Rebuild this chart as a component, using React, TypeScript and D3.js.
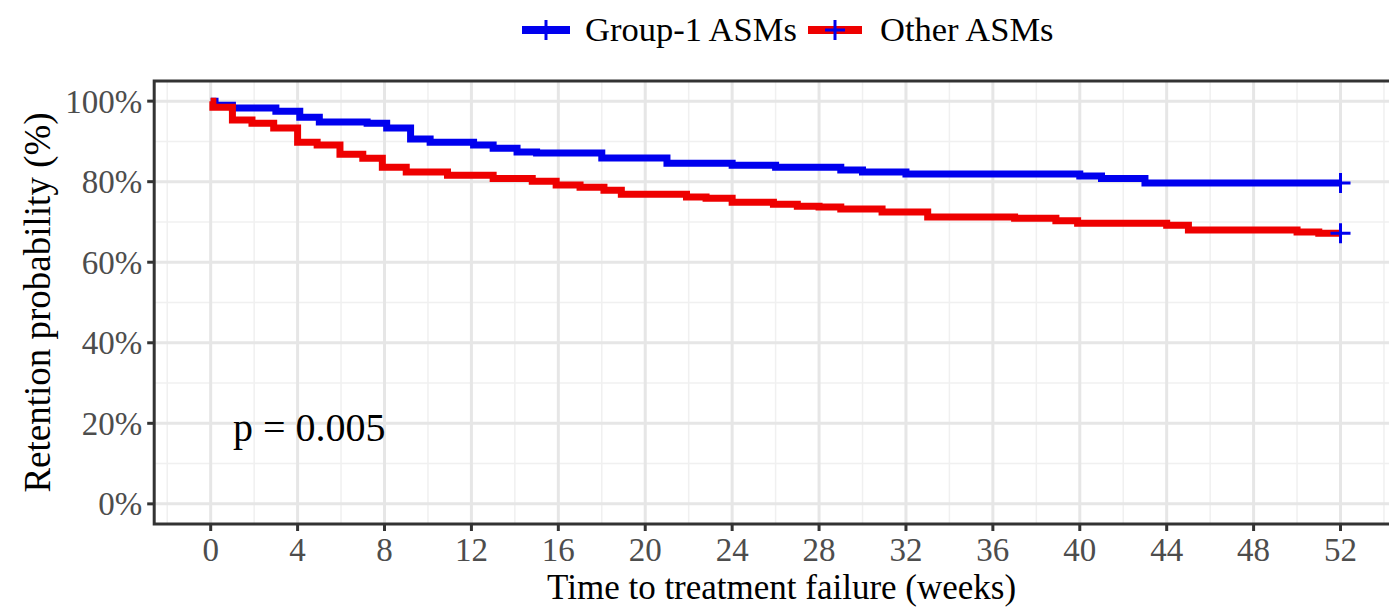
import React from 'react';
import * as d3 from 'd3';

// survival steps: time (weeks) -> retention probability
const group1Times = [0, 0.2, 1.0, 3.0, 4.1, 5.0, 7.2, 8.1, 9.2, 10.1, 12.1, 13.0, 14.1, 15.0, 18.0, 21.0, 24.0, 26.0, 29.0, 30.0, 32.0, 40.0, 41.0, 43.0, 52];
const group1Surv  = [1.0, 0.990, 0.983, 0.975, 0.960, 0.948, 0.945, 0.933, 0.906, 0.898, 0.891, 0.883, 0.874, 0.871, 0.859, 0.846, 0.841, 0.836, 0.829, 0.824, 0.819, 0.814, 0.808, 0.797, 0.797];

const otherTimes = [0, 0.1, 1.0, 1.9, 2.9, 4.0, 4.9, 5.95, 7.0, 7.9, 9.0, 10.9, 13.0, 14.8, 15.9, 17.0, 18.1, 18.9, 21.9, 22.8, 24.0, 25.9, 27.0, 28.0, 29.0, 30.9, 33.0, 37.0, 38.9, 39.9, 44.0, 45.0, 50.0, 51.0, 52];
const otherSurv  = [1.0, 0.985, 0.953, 0.945, 0.933, 0.898, 0.891, 0.868, 0.858, 0.836, 0.824, 0.816, 0.808, 0.801, 0.792, 0.786, 0.779, 0.769, 0.762, 0.759, 0.749, 0.744, 0.739, 0.737, 0.732, 0.725, 0.712, 0.709, 0.703, 0.697, 0.692, 0.680, 0.675, 0.672, 0.672];

const seriesNames = ['Group-1 ASMs', 'Other ASMs'];
const xTicks = [0, 4, 8, 12, 16, 20, 24, 28, 32, 36, 40, 44, 48, 52];
const xMinor = [-2, 2, 6, 10, 14, 18, 22, 26, 30, 34, 38, 42, 46, 50, 54];
const yTicks = [0, 0.2, 0.4, 0.6, 0.8, 1.0];
const yMinor = [0.1, 0.3, 0.5, 0.7, 0.9];
const pLabel = 'p = 0.005';

const C = {
  blue:  '#0000ee',
  red:   '#ee0000',
  grid:  '#e6e6e6',
  minor: '#f0f0f0',
  frame: '#333333',
  tick:  '#4d4d4d',
};
const serif = "'Liberation Serif','Times New Roman',Times,serif";

const W = 1389, H = 610;
const panel = { left: 154.2, right: 1397, top: 81, bottom: 524 };

export default function App() {
  const x = d3.scaleLinear().domain([-2.6, 54.6]).range([panel.left, panel.right]);
  const y = d3.scaleLinear().domain([-0.05, 1.05]).range([panel.bottom, panel.top]);

  const line = d3.line<[number, number]>().x(d => x(d[0])).y(d => y(d[1])).curve(d3.curveStepAfter);
  const g1 = group1Times.map((t, i) => [t, group1Surv[i]] as [number, number]);
  const ot = otherTimes.map((t, i) => [t, otherSurv[i]] as [number, number]);

  const cross = (cx: number, cy: number, key: string) => (
    <g key={key} stroke={C.blue} strokeWidth={3}>
      <line x1={cx - 10} x2={cx + 10} y1={cy} y2={cy} />
      <line x1={cx} x2={cx} y1={cy - 10} y2={cy + 10} />
    </g>
  );

  const pw = panel.right - panel.left, ph = panel.bottom - panel.top;

  return (
    <div style={{ position: 'absolute', left: 0, top: 0 }}>
      <svg width={W} height={H} style={{ display: 'block', background: '#fff', fontFamily: serif }}>
        <defs>
          <clipPath id="pc"><rect x={panel.left} y={panel.top} width={pw} height={ph} /></clipPath>
        </defs>

        {/* grid */}
        <g clipPath="url(#pc)">
          {xMinor.map(v => <line key={'xm' + v} x1={x(v)} x2={x(v)} y1={panel.top} y2={panel.bottom} stroke={C.minor} strokeWidth={1.5} />)}
          {yMinor.map(v => <line key={'ym' + v} y1={y(v)} y2={y(v)} x1={panel.left} x2={panel.right} stroke={C.minor} strokeWidth={1.5} />)}
          {xTicks.map(v => <line key={'xg' + v} x1={x(v)} x2={x(v)} y1={panel.top} y2={panel.bottom} stroke={C.grid} strokeWidth={3} />)}
          {yTicks.map(v => <line key={'yg' + v} y1={y(v)} y2={y(v)} x1={panel.left} x2={panel.right} stroke={C.grid} strokeWidth={3} />)}

          {/* curves */}
          <path d={line(g1) || ''} fill="none" stroke={C.blue} strokeWidth={7} />
          <path d={line(ot) || ''} fill="none" stroke={C.red} strokeWidth={7} />
          {cross(x(52), y(group1Surv[group1Surv.length - 1]), 'c1')}
          {cross(x(52), y(otherSurv[otherSurv.length - 1]), 'c2')}
        </g>

        <rect x={panel.left} y={panel.top} width={pw} height={ph} fill="none" stroke={C.frame} strokeWidth={3} />

        {/* y axis */}
        {yTicks.map(v => (
          <g key={'yt' + v}>
            <line x1={panel.left - 7} x2={panel.left} y1={y(v)} y2={y(v)} stroke={C.frame} strokeWidth={3} />
            <text x={panel.left - 12} y={y(v)} dy="0.35em" textAnchor="end" fontSize={33} fill={C.tick}>
              {d3.format('.0%')(v)}
            </text>
          </g>
        ))}
        {/* x axis */}
        {xTicks.map(v => (
          <g key={'xt' + v}>
            <line x1={x(v)} x2={x(v)} y1={panel.bottom} y2={panel.bottom + 7} stroke={C.frame} strokeWidth={3} />
            <text x={x(v)} y={561} textAnchor="middle" fontSize={33} fill={C.tick}>{v}</text>
          </g>
        ))}

        <text x={(panel.left + 1389) / 2 + 10} y={599} textAnchor="middle" fontSize={35} fill="#000">Time to treatment failure (weeks)</text>
        <text transform={`translate(50,${(panel.top + panel.bottom) / 2}) rotate(-90)`} textAnchor="middle" fontSize={37} fill="#000">
          Retention probability (%)
        </text>

        <text x={233} y={441} fontSize={40} fill="#000">{pLabel}</text>

        {/* legend */}
        <g>
          <line x1={522} x2={570} y1={30} y2={30} stroke={C.blue} strokeWidth={8} />
          {cross(546, 30, 'l1')}
          <text x={585} y={41} fontSize={34.5} fill="#000">{seriesNames[0]}</text>
          <line x1={808} x2={862} y1={30} y2={30} stroke={C.red} strokeWidth={8} />
          {cross(835, 30, 'l2')}
          <text x={880} y={41} fontSize={34.5} fill="#000">{seriesNames[1]}</text>
        </g>
      </svg>
    </div>
  );
}
